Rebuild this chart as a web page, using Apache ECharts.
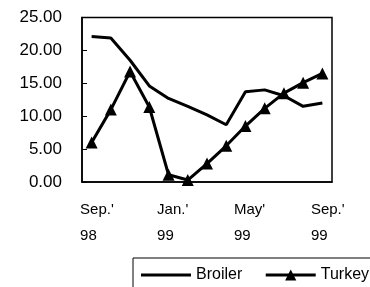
<!DOCTYPE html>
<html>
<head>
<meta charset="utf-8">
<script src="https://cdn.jsdelivr.net/npm/echarts@6/dist/echarts.min.js"></script>
<style>html,body{margin:0;padding:0;background:#fff}#c{width:370px;height:287px}</style>
</head>
<body>
<div id="c"></div>
<script>
var categories = ["Sep.' 98","Oct.' 98","Nov.' 98","Dec.' 98","Jan.' 99","Feb.' 99","Mar.' 99","Apr.' 99","May' 99","Jun.' 99","Jul.' 99","Aug.' 99","Sep.' 99"];
var broiler = [22.1, 21.9, 18.5, 14.6, 12.7, 11.5, 10.2, 8.7, 13.7, 14.0, 13.1, 11.5, 12.0];
var turkey = [6.0, 11.0, 16.8, 11.4, 1.1, 0.3, 2.8, 5.5, 8.5, 11.2, 13.5, 15.1, 16.5];
var yTicks = {min: 0, max: 25, interval: 5};
var seriesNames = ['Broiler', 'Turkey'];

var FONT = '"Liberation Sans", Arial, sans-serif';
var lineIcon = 'path://M0,0L0,0ZM0,5.5L50,5.5L50,8.5L0,8.5ZM50,14L50,14Z';
var chart = echarts.init(document.getElementById('c'), null, {renderer: 'canvas'});
chart.setOption({
  animation: false,
  backgroundColor: '#fff',
  textStyle: {fontFamily: FONT, color: '#000'},
  grid: {left: 82, right: 38, top: 17.5, bottom: 105, show: true, borderColor: '#000', borderWidth: 1.5, containLabel: false},
  legend: {
    left: 133, top: 258, width: 400,
    orient: 'horizontal',
    data: [{name: seriesNames[0], icon: lineIcon}, {name: seriesNames[1]}],
    borderColor: '#000', borderWidth: 1,
    padding: [9, 8, 9, 8],
    itemWidth: 50, itemHeight: 14, itemGap: 22,
    lineStyle: {width: 3, color: '#000'},
    textStyle: {fontFamily: FONT, fontSize: 16, color: '#000'}
  },
  xAxis: [{
    type: 'category', data: categories, boundaryGap: true,
    axisLine: {lineStyle: {color: '#000', width: 1.5}},
    axisTick: {inside: true, length: 4, interval: 0, lineStyle: {color: '#000', width: 1}},
    axisLabel: {
      interval: 3, margin: 15,
      formatter: function (v) { var p = v.split(' '); return '{a|' + p[0] + '}\n{a|' + p[1] + '}'; },
      rich: {a: {fontFamily: FONT, fontSize: 15, lineHeight: 26, width: 23, align: 'left', color: '#000'}}
    },
    splitLine: {show: false}
  }, {
    type: 'category', data: categories, boundaryGap: true, position: 'bottom',
    axisLine: {show: false},
    axisTick: {inside: true, length: 4, interval: 0, alignWithLabel: true, lineStyle: {color: '#000', width: 1}},
    axisLabel: {show: false},
    splitLine: {show: false}
  }],
  yAxis: {
    type: 'value', min: yTicks.min, max: yTicks.max, interval: yTicks.interval,
    axisLine: {show: true, lineStyle: {color: '#000', width: 1.5}},
    axisTick: {show: true, inside: true, length: 5, lineStyle: {color: '#000', width: 1}},
    axisLabel: {margin: 20, fontFamily: FONT, fontSize: 17, color: '#000', formatter: function (v) { return v.toFixed(2); }},
    splitLine: {show: false}
  },
  series: [{
    name: seriesNames[0], type: 'line', data: broiler, symbol: 'none',
    lineStyle: {color: '#000', width: 3}, itemStyle: {color: '#000'}
  }, {
    name: seriesNames[1], type: 'line', data: turkey, symbol: 'triangle', symbolSize: 12,
    lineStyle: {color: '#000', width: 3}, itemStyle: {color: '#000'}
  }]
});
</script>
</body>
</html>
